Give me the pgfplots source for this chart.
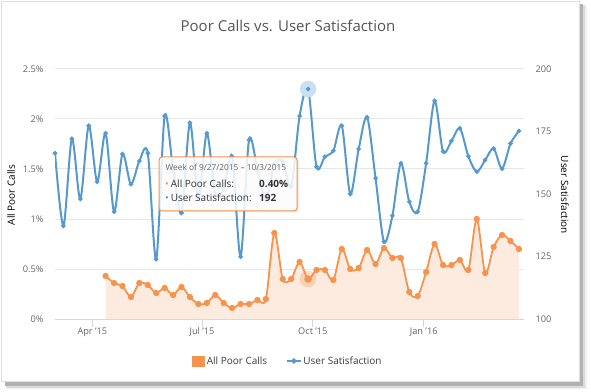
\documentclass[border=0pt]{standalone}
\usepackage{pgfplots}
\usepackage{pgfplotstable}
\pgfplotsset{compat=1.18}
\usepackage{fontspec}
\setmainfont{Open Sans}
\definecolor{blueC}{HTML}{5599D0}
\definecolor{orangeC}{HTML}{F7934C}
\definecolor{peach}{HTML}{FDEBDF}
\definecolor{gridC}{HTML}{E6E6E6}
\definecolor{axisC}{HTML}{CCD6EB}
\definecolor{labC}{HTML}{666666}
\definecolor{titleC}{HTML}{555555}
\definecolor{tipC}{HTML}{333333}
\definecolor{legC}{HTML}{3D3D3D}

\pgfplotstableread{
w v
6 0.43
7 0.36
8 0.33
9 0.22
10 0.36
11 0.34
12 0.26
13 0.31
14 0.24
15 0.32
16 0.22
17 0.15
18 0.16
19 0.24
20 0.16
21 0.11
22 0.15
23 0.15
24 0.19
25 0.20
26 0.86
27 0.40
28 0.40
29 0.57
30 0.40
31 0.49
32 0.49
33 0.39
34 0.70
35 0.50
36 0.51
37 0.69
38 0.55
39 0.71
40 0.61
41 0.61
42 0.27
43 0.23
44 0.47
45 0.75
46 0.54
47 0.54
48 0.59
49 0.49
50 1.00
51 0.46
52 0.72
53 0.84
54 0.78
55 0.70
}\poor

\pgfplotstableread{
w v
0 166.3
1 137.2
2 172.1
3 148.0
4 177.3
5 154.9
6 174.3
7 142.9
8 166.0
9 153.9
10 163.2
11 166.3
12 123.9
13 181.2
14 160
15 142.4
16 178.5
17 148
18 174.3
19 150
20 152
21 165
22 124.9
23 171.6
24 160
25 148
26 162
27 163
28 153
29 181.2
30 192
31 160.9
32 164.9
33 167.3
34 177.3
35 150
36 168
37 180.7
38 156.3
39 130.9
40 141.3
41 162.3
42 146.9
43 142.9
44 162.3
45 187.3
46 167
47 171.2
48 176.3
49 165.1
50 158.9
51 163.6
52 168.2
53 160.1
54 170.2
55 175.2
}\sat

\newcommand{\tickfont}{\fontsize{9.2}{11}\selectfont}
\newcommand{\labfont}{\fontsize{10}{12}\selectfont}

\pgfplotsset{
  base/.style={
    at={(55pt,72pt)}, anchor=south west,
    width=469pt, height=250pt, scale only axis,
    xmin=0, xmax=55.6,
    tick label style={font=\tickfont, text=labC},
    label style={font=\labfont, text=labC},
    /pgf/number format/assume math mode=true,
  }
}

\begin{document}
\begin{tikzpicture}[x=1pt,y=1pt]
\useasboundingbox (0,0) rectangle (591,391);
\fill[black!6] (7,2) rectangle (587,385);
\fill[black!14] (6,3) rectangle (585,386);
\fill[black!30] (5,5) rectangle (582.5,387);
\fill[white] (1.5,9.5) rectangle (579.5,389.5);
\draw[black!12, line width=0.8pt] (1.5,9.5) rectangle (579.5,389.5);

\begin{axis}[base,
  ymin=0, ymax=2.5,
  axis x line*=bottom, axis y line*=left,
  x axis line style={draw=axisC, line width=1pt, -},
  y axis line style={draw=none},
  xtick={4.4286,17.4286,30.571,43.714},
  xticklabels={Apr '15,Jul '15,Oct '15,Jan '16},
  xticklabel style={yshift=3pt},
  tick align=outside, major tick length=8pt,
  xtick style={draw=axisC, line width=1pt},
  ytick={0,0.5,1,1.5,2,2.5},
  yticklabels={0\%,0.5\%,1\%,1.5\%,2\%,2.5\%},
  ytick style={draw=none},
  ymajorgrids, grid style={draw=gridC, line width=1pt},
  ylabel={All Poor Calls},
  every axis y label/.style={at={(axis description cs:-0.0938,0.496)}, rotate=90, anchor=center},
  title={Poor Calls vs. User Satisfaction},
  title style={at={(axis description cs:0.4968,1.124)}, anchor=base, font=\fontsize{15}{18}\selectfont, text=titleC},
]
\addplot[draw=none, fill=peach, smooth, tension=0.5] table[x=w,y=v]{\poor} \closedcycle;
\addplot[orangeC, line width=1.8pt, smooth, tension=0.5, mark=*, mark size=2.2pt, mark options={solid, draw=none, fill=orangeC}] table[x=w,y=v]{\poor};
\addplot[only marks, mark=*, mark size=8pt, color=orangeC, opacity=0.28] coordinates {(30,0.40)};
\addplot[only marks, mark=*, mark size=3.5pt, color=orangeC] coordinates {(30,0.40)};
\end{axis}

\begin{axis}[base,
  ymin=100, ymax=200,
  axis x line=none, axis y line*=right,
  y axis line style={draw=none},
  ytick={100,125,150,175,200},
  yticklabels={100,125,150,175,200},
  yticklabel style={xshift=8pt},
  ytick style={draw=none},
  ylabel={User Satisfaction},
  every axis y label/.style={at={(axis description cs:1.0874,0.496)}, rotate=-90, anchor=center},
  legend style={at={(axis description cs:0.4968,-0.168)}, anchor=center, draw=none, fill=none, font=\labfont, text=legC, legend columns=2, /tikz/every even column/.append style={column sep=17pt}},
]
\addplot[only marks, mark=*, mark size=8pt, color=blueC!30, forget plot] coordinates {(30,192)};
\addlegendimage{legend image code/.code={\fill[orangeC] (-1pt,-5pt) rectangle (11pt,5pt);}}
\addlegendentry{All Poor Calls}
\addplot[blueC, line width=2pt, smooth, tension=0.5, mark=*, mark size=1.1pt, mark options={solid, draw=none, fill=blueC},
  legend image code/.code={\draw[blueC, line width=1.2pt] (0pt,0pt) -- (14pt,0pt); \fill[blueC] (7pt,0pt) circle (1.6pt);}] table[x=w,y=v]{\sat};
\addlegendentry{User Satisfaction}
\end{axis}

% tooltip
\fill[black, opacity=0.07, rounded corners=3pt] (160.5,178.5) rectangle (299,232.5);
\draw[orangeC, line width=1pt, fill=white, fill opacity=0.85, rounded corners=3pt] (159,180) rectangle (297,234);
\node[anchor=base west, inner sep=0, font=\fontsize{8.3}{10}\selectfont, text=labC] at (165.5,220.5) {Week of 9/27/2015 – 10/3/2015};
\node[anchor=base west, inner sep=0, font=\fontsize{10}{12}\selectfont, text=orangeC] at (165,203) {•};
\node[anchor=base west, inner sep=0, font=\fontsize{10}{12}\selectfont, text=tipC] at (170.7,203) {All Poor Calls:};
\node[anchor=base west, inner sep=0, font=\fontsize{10}{12}\selectfont\bfseries, text=tipC] at (259,203) {0.40\%};
\node[anchor=base west, inner sep=0, font=\fontsize{10}{12}\selectfont, text=blueC] at (165,189) {•};
\node[anchor=base west, inner sep=0, font=\fontsize{10}{12}\selectfont, text=tipC] at (170.7,189) {User Satisfaction:};
\node[anchor=base west, inner sep=0, font=\fontsize{10}{12}\selectfont\bfseries, text=tipC] at (259,189) {192};
\end{tikzpicture}
\end{document}
